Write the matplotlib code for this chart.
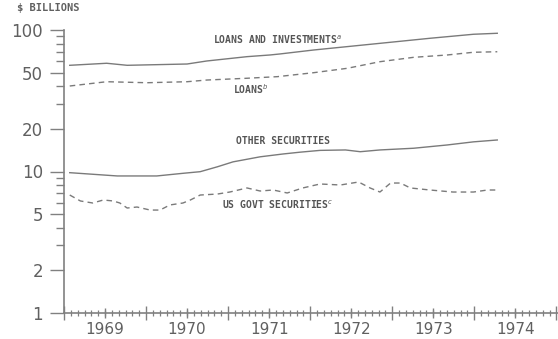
import numpy as np
import matplotlib
matplotlib.use('Agg')
import matplotlib.pyplot as plt
from matplotlib.ticker import FixedLocator, NullFormatter, NullLocator

# values, $ billions (log scale)
li_t = [1969.07, 1969.52, 1969.77, 1970.50, 1970.74, 1971.23, 1971.51, 1971.63,
        1972.04, 1972.85, 1973.46, 1973.99, 1974.28]
li_v = [56.3, 58.2, 56.3, 57.5, 60.4, 64.8, 66.6, 67.7, 72.2, 80.5, 87.4, 93.3, 94.8]

loans_t = [1969.07, 1969.52, 1970.01, 1970.50, 1970.74, 1971.23, 1971.60, 1972.04,
           1972.45, 1972.85, 1973.26, 1973.67, 1973.99, 1974.28]
loans_v = [40.2, 43.1, 42.4, 43.1, 44.3, 45.6, 46.8, 49.9, 53.6, 59.7, 64.1, 66.6, 69.6, 70.2]

oth_t = [1969.07, 1969.65, 1970.13, 1970.45, 1970.66, 1970.87, 1971.06, 1971.39,
         1971.67, 1971.88, 1972.12, 1972.43, 1972.61, 1972.85, 1973.26, 1973.67,
         1973.99, 1974.28]
oth_v = [9.81, 9.30, 9.30, 9.71, 9.97, 10.8, 11.7, 12.7, 13.3, 13.7, 14.1, 14.2,
         13.8, 14.2, 14.6, 15.4, 16.2, 16.7]

gov_t = [1969.07, 1969.20, 1969.35, 1969.48, 1969.60, 1969.68, 1969.77, 1969.89,
         1970.05, 1970.17, 1970.29, 1970.45, 1970.54, 1970.66, 1970.87, 1971.02,
         1971.23, 1971.39, 1971.55, 1971.72, 1971.91, 1972.12, 1972.37, 1972.59,
         1972.73, 1972.85, 1972.98, 1973.10, 1973.22, 1973.46, 1973.74, 1973.99,
         1974.16, 1974.28]
gov_v = [6.82, 6.19, 5.99, 6.29, 6.19, 5.99, 5.52, 5.61, 5.34, 5.34, 5.80, 5.99,
         6.29, 6.82, 6.93, 7.16, 7.65, 7.28, 7.40, 7.05, 7.65, 8.16, 8.03, 8.43,
         7.65, 7.16, 8.29, 8.29, 7.65, 7.40, 7.16, 7.16, 7.40, 7.40]

years = [1969, 1970, 1971, 1972, 1973, 1974]
y_major = [1, 2, 5, 10, 20, 50, 100]

LC = '#7a7a7a'
TC = '#606060'

fig = plt.figure(figsize=(5.58, 3.39), dpi=100)
ax = fig.add_axes([64/558, 26/339, 1 - 64/558, (313 - 30)/339])

ax.plot(li_t, li_v, '-', color=LC, lw=1.0)
ax.plot(loans_t, loans_v, '--', color=LC, lw=1.0, dashes=(4, 3))
ax.plot(oth_t, oth_v, '-', color=LC, lw=1.0)
ax.plot(gov_t, gov_v, '--', color=LC, lw=1.0, dashes=(4, 3))

ax.set_yscale('log')
ax.set_ylim(1, 100)
ax.set_xlim(1969, 1975.02)

for s in ['top', 'right']:
    ax.spines[s].set_visible(False)
for s in ['left', 'bottom']:
    ax.spines[s].set_color('#808080')
    ax.spines[s].set_linewidth(1.2)

# y axis
ax.yaxis.set_major_locator(FixedLocator(y_major))
ax.set_yticklabels([str(v) for v in y_major])
ax.yaxis.set_minor_locator(FixedLocator([3, 4, 6, 7, 8, 9, 30, 40, 60, 70, 80, 90]))
ax.yaxis.set_minor_formatter(NullFormatter())
ax.tick_params(axis='y', which='major', length=10, width=1.0, color='#808080',
               labelsize=12, labelcolor=TC, pad=5)
ax.tick_params(axis='y', which='minor', length=5.5, width=1.0, color='#808080')

# x axis: year ticks, month ticks
ax.xaxis.set_major_locator(FixedLocator(years + [1975]))
ax.xaxis.set_major_formatter(NullFormatter())
months = [y + m / 12 for y in years for m in range(1, 12)]
ax.xaxis.set_minor_locator(FixedLocator(months))
ax.tick_params(axis='x', which='major', direction='inout', length=9.5, width=1.0,
               color='#808080')
ax.tick_params(axis='x', which='minor', direction='inout', length=4.3, width=0.9,
               color='#808080')

sec = ax.secondary_xaxis('bottom')
sec.spines['bottom'].set_visible(False)
sec.xaxis.set_major_locator(FixedLocator([y + 0.5 for y in years]))
sec.set_xticklabels([str(y) for y in years])
sec.xaxis.set_minor_locator(NullLocator())
sec.tick_params(axis='x', direction='inout', length=6.5, width=1.0, color='#808080',
                labelsize=11, labelcolor=TC, pad=3)

fig.text(17/558, 1 - 8/339, '$ BILLIONS', family='DejaVu Sans Mono', fontsize=7.5,
         fontweight='bold', color=TC, ha='left', va='center')

kw = dict(family='DejaVu Sans Mono', fontsize=7, fontweight='bold', color='#555555',
          ha='center', va='center')
ax.text(1971.60, 85, r'LOANS AND INVESTMENTS$^{a}$', **kw)
ax.text(1971.27, 38.3, r'LOANS$^{b}$', **kw)
ax.text(1971.67, 16.4, 'OTHER SECURITIES', **kw)
ax.text(1971.60, 5.8, r'US GOVT SECURITIES$^{c}$', **kw)

fig.savefig('out.png', dpi=100)
